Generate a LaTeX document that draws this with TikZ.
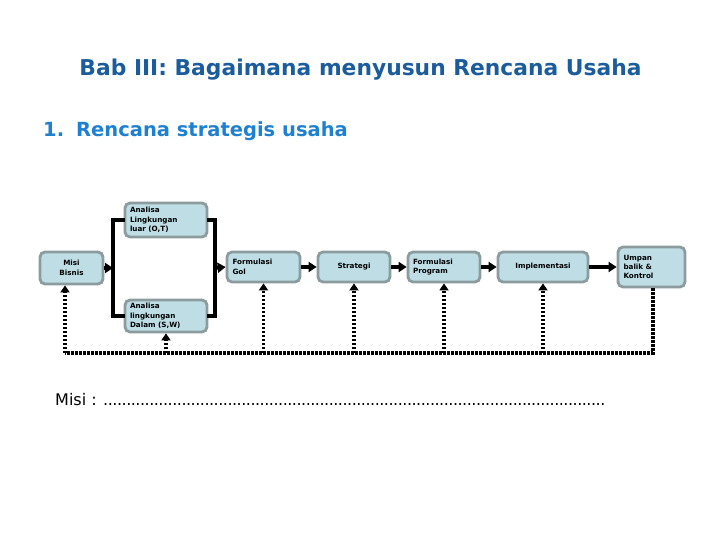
\documentclass[tikz,border=0pt]{standalone}
\usepackage{fontspec}
\setmainfont{DejaVu Sans}
\usetikzlibrary{arrows.meta}
\definecolor{titleblue}{HTML}{1A5C9C}
\definecolor{subblue}{HTML}{1E80D0}
\definecolor{boxfill}{HTML}{BEDDE5}
\definecolor{boxline}{HTML}{8C9C9E}
\tikzset{
  x=1pt,y=-1pt,
  box/.style={draw=boxline,fill=boxfill,line width=2.8pt,rounded corners=5pt,inner sep=2pt,
    font=\fontsize{7.2}{9.4}\selectfont\bfseries},
  lbox/.style={box,align=left},
  cbox/.style={box,align=center},
  conn/.style={line width=3.6pt,line cap=rect},
  arr/.style={line width=3.6pt,-{Triangle[length=8pt,width=10pt]}},
  fb/.style={line width=3.6pt,dash pattern=on 2.4pt off 1.6pt},
  fbarr/.style={fb,-{Triangle[length=7pt,width=9pt]}},
}
\begin{document}
\begin{tikzpicture}
\useasboundingbox (0,0) rectangle (720,540);
\node[font=\fontsize{21.8}{24}\selectfont\bfseries,text=titleblue,anchor=center] (title) at (360.5,70) {Bab III: Bagaimana menyusun Rencana Usaha};
\node[font=\fontsize{19.5}{22}\selectfont\bfseries,text=subblue,anchor=west,inner sep=0] (sub) at (43,131) {1.\hspace{12pt}Rencana strategis usaha};

\node[cbox,minimum width=63,minimum height=32] (misi) at (71.5,268) {Misi\\Bisnis};
\node[lbox,minimum width=82,minimum height=34,text width=72] (luar) at (166,220) {Analisa\\Lingkungan\\luar (O,T)};
\node[lbox,minimum width=82,minimum height=32,text width=72] (dalam) at (166,316) {Analisa\\lingkungan\\Dalam (S,W)};
\node[lbox,minimum width=73,minimum height=30,text width=62] (gol) at (263.5,267) {Formulasi\\Gol};
\node[cbox,minimum width=72,minimum height=30] (strat) at (354,267) {Strategi};
\node[lbox,minimum width=72,minimum height=30,text width=62] (prog) at (444,267) {Formulasi\\Program};
\node[cbox,minimum width=90,minimum height=30] (impl) at (543,267) {Implementasi};
\node[lbox,minimum width=67,minimum height=40,text width=56] (umpan) at (651.5,267) {Umpan\\balik \&\\Kontrol};

\coordinate (lb) at (113,268);
\coordinate (rb) at (215,268);
\draw[conn] (luar.west) -- (luar.west -| lb) -- (dalam.west -| lb) -- (dalam.west);
\draw[conn] (luar.east) -- (luar.east -| rb) -- (dalam.east -| rb) -- (dalam.east);
\draw[arr] (misi.east) -- (lb);
\draw[arr] (rb) -- (gol.west);
\draw[arr] (gol.east) -- (strat.west);
\draw[arr] (strat.east) -- (prog.west);
\draw[arr] (prog.east) -- (impl.west);
\draw[arr] (impl.east) -- (umpan.west);

\coordinate (fbL) at (65,353);
\coordinate (fbR) at (653,353);
\draw[fb] (umpan.south -| fbR) -- (fbR) -- (fbL);
\draw[fbarr] (fbL) -- (misi.south -| fbL);
\draw[fbarr] (dalam.south |- fbL) -- (dalam.south);
\draw[fbarr] (gol.south |- fbL) -- (gol.south);
\draw[fbarr] (strat.south |- fbL) -- (strat.south);
\draw[fbarr] (prog.south |- fbL) -- (prog.south);
\draw[fbarr] (impl.south |- fbL) -- (impl.south);

\node[anchor=west,inner sep=0,font=\fontsize{16}{19}\selectfont] (misitext) at (55,400) {Misi : \hbox to 505pt{\leaders\hbox to 4.6pt{\hss.\hss}\hfill}};
\end{tikzpicture}
\end{document}
